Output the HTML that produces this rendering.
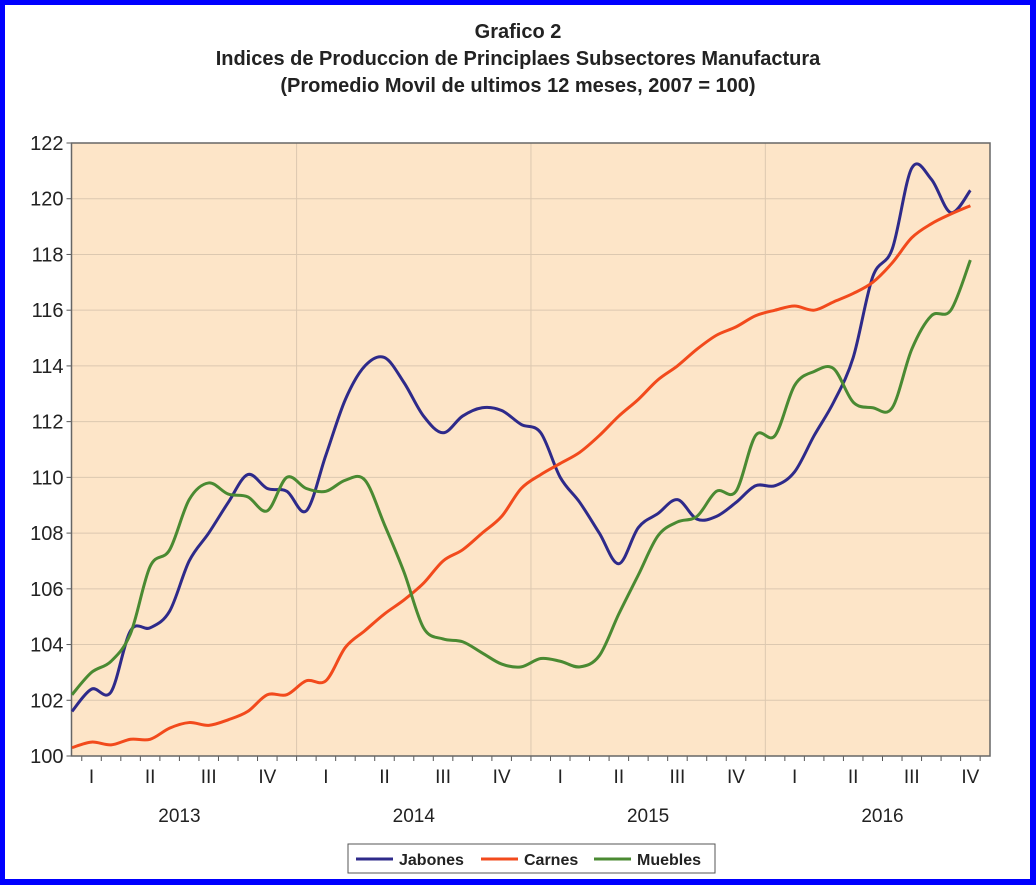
<!DOCTYPE html>
<html><head><meta charset="utf-8"><style>
html,body{margin:0;padding:0;background:#fff;}
body{width:1036px;height:885px;overflow:hidden;position:relative;font-family:"Liberation Sans",sans-serif;}
.frame{position:absolute;left:0;top:0;width:1036px;height:885px;box-sizing:border-box;border-style:solid;border-color:#0000ff;border-width:5px 6px 6px 5px;}
.title{position:absolute;left:0;width:1036px;text-align:center;font-weight:bold;font-size:20px;color:#222;}
</style></head><body>
<div class="frame"></div>
<div class="title" style="top:21px">Grafico 2</div>
<div class="title" style="top:48px">Indices de Produccion de Principlaes Subsectores Manufactura</div>
<div class="title" style="top:75px">(Promedio Movil de ultimos 12 meses, 2007 = 100)</div>
<svg id="chart" width="1036" height="885" style="position:absolute;left:0;top:0"></svg>
<script>
const jabones=[101.6,102.4,102.3,104.5,104.6,105.2,107.0,108.0,109.1,110.1,109.6,109.5,108.8,110.8,112.8,114.0,114.3,113.4,112.2,111.6,112.2,112.5,112.4,111.9,111.6,110.0,109.1,108.0,106.9,108.2,108.7,109.2,108.5,108.6,109.1,109.7,109.7,110.2,111.5,112.7,114.3,117.2,118.2,121.1,120.7,119.5,120.3];
const carnes=[100.3,100.5,100.4,100.6,100.6,101.0,101.2,101.1,101.3,101.6,102.2,102.2,102.7,102.7,103.9,104.5,105.1,105.6,106.2,107.0,107.4,108.0,108.6,109.6,110.1,110.5,110.9,111.5,112.2,112.8,113.5,114.0,114.6,115.1,115.4,115.8,116.0,116.15,116.0,116.3,116.6,117.0,117.7,118.6,119.1,119.45,119.75];
const muebles=[102.2,103.0,103.4,104.4,106.8,107.4,109.2,109.8,109.4,109.3,108.8,110.0,109.6,109.5,109.9,109.9,108.3,106.6,104.6,104.2,104.1,103.7,103.3,103.2,103.5,103.4,103.2,103.6,105.1,106.5,107.9,108.4,108.6,109.5,109.5,111.5,111.5,113.3,113.8,113.9,112.7,112.5,112.5,114.6,115.8,116.0,117.8];
const yTicks=[100,102,104,106,108,110,112,114,116,118,120,122];
const quarterLabels=["I","II","III","IV"];
const years=["2013","2014","2015","2016"];
const seriesNames=["Jabones","Carnes","Muebles"];
const seriesColors=["#2e2a8a","#f24a1c","#4a8a32"];

const NS="http://www.w3.org/2000/svg";
const svg=document.getElementById('chart');
const L=71.5,R=990,T=143,B=756,STEP=19.53,YMIN=100,YMAX=122;
const xs=i=>L+0.5+i*STEP;
const ys=v=>B-(v-YMIN)/(YMAX-YMIN)*(B-T);
function mk(tag,attrs,parent){const e=document.createElementNS(NS,tag);for(const k in attrs)e.setAttribute(k,attrs[k]);(parent||svg).appendChild(e);return e;}

const bg=mk('rect',{x:L,y:T,width:R-L,height:B-T,fill:'#fde5c8',stroke:'none'});


yTicks.forEach(v=>{
  const g=mk('line',{x1:L,x2:R,y1:ys(v),y2:ys(v),stroke:'#dcc8b0','stroke-width':1});
  
  
  const t=mk('line',{x1:L-5,x2:L,y1:ys(v),y2:ys(v),stroke:'#555','stroke-width':1});
  
  
  const tx=mk('text',{x:L-8,y:ys(v)+7,'text-anchor':'end','font-size':20,fill:'#222','font-family':'Liberation Sans, sans-serif'});
  tx.textContent=v;
  
  
});
years.forEach((y,k)=>{
  if(k>0){const g=mk('line',{x1:xs(12*k-0.5),x2:xs(12*k-0.5),y1:T,y2:B,stroke:'#dcc8b0','stroke-width':1});
  
  }
  const t=mk('text',{x:xs(12*k+5.5),y:822,'text-anchor':'middle','font-size':19,fill:'#222','font-family':'Liberation Sans, sans-serif'});
  t.textContent=y;
  
  
  quarterLabels.forEach((q,j)=>{
    const ql=mk('text',{x:xs(12*k+3*j+1),y:783,'text-anchor':'middle','font-size':19,fill:'#222','font-family':'Liberation Sans, sans-serif'});
    ql.textContent=q;
    
    
  });
});
for(let m=0;m<48;m++){
  const x=xs(m+0.5);
  if(x>R+1)break;
  const tk=mk('line',{x1:x,x2:x,y1:B,y2:B+5,stroke:'#555','stroke-width':1});
  
  
}
const border=mk('rect',{x:L,y:T,width:R-L,height:B-T,fill:'none',stroke:'#666','stroke-width':1.5});



function smooth(pts){
  let d=`M${pts[0][0]},${pts[0][1]}`;
  for(let i=0;i<pts.length-1;i++){
    const p0=pts[Math.max(0,i-1)],p1=pts[i],p2=pts[i+1],p3=pts[Math.min(pts.length-1,i+2)];
    const c1=[p1[0]+(p2[0]-p0[0])/6,p1[1]+(p2[1]-p0[1])/6];
    const c2=[p2[0]-(p3[0]-p1[0])/6,p2[1]-(p3[1]-p1[1])/6];
    d+=` C${c1[0]},${c1[1]} ${c2[0]},${c2[1]} ${p2[0]},${p2[1]}`;
  }
  return d;
}
[jabones,carnes,muebles].forEach((s,k)=>{
  const p=mk('path',{d:smooth(s.map((v,i)=>[xs(i),ys(v)])),fill:'none',stroke:seriesColors[k],'stroke-width':3,'stroke-linejoin':'round'});
  
  
});
const lg=mk('rect',{x:348,y:844,width:367,height:29,fill:'#fff',stroke:'#555','stroke-width':1});


const lx=[356,481,594];
seriesNames.forEach((n,k)=>{
  const l=mk('line',{x1:lx[k],x2:lx[k]+37,y1:859,y2:859,stroke:seriesColors[k],'stroke-width':3});
  
  
  const t=mk('text',{x:lx[k]+43,y:865,'font-size':16,'font-weight':'bold',fill:'#222','font-family':'Liberation Sans, sans-serif'});
  t.textContent=n;
  
  
});
</script>
</body></html>
